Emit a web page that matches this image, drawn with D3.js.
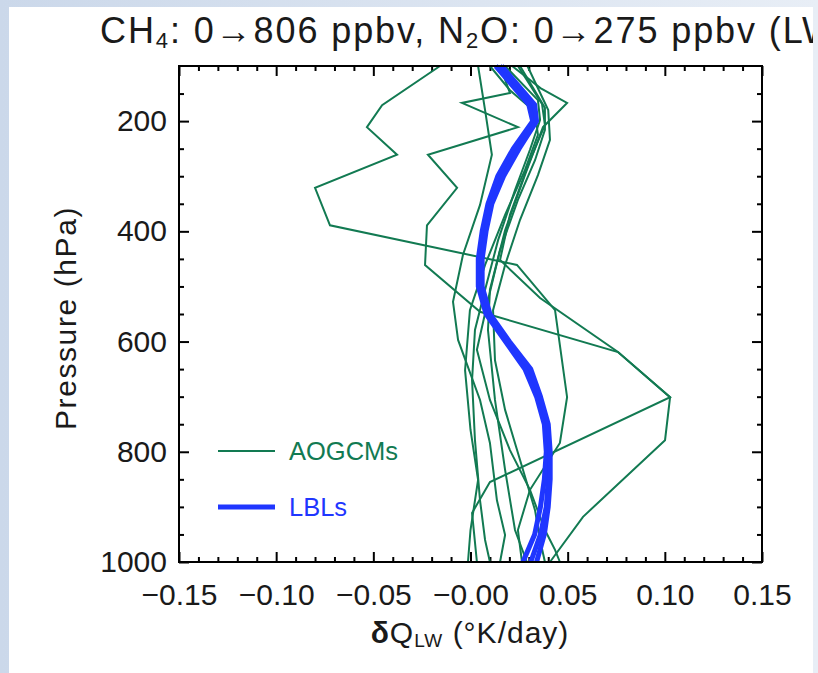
<!DOCTYPE html>
<html><head><meta charset="utf-8">
<script src="https://cdn.jsdelivr.net/npm/d3@7"></script>
<style>html,body{margin:0;padding:0;background:#fff}svg{display:block}</style>
</head><body>
<svg id="c" width="818" height="673"></svg>
<script>
// ---- data: [pressure hPa, dQ K/day] ----
const aogcm1 = [[100,-0.0157],[171,-0.0455],[211,-0.0533],[261,-0.0378],[321,-0.080],[389,-0.0723],[461,0.0239],[543,0.0435],[701,0.0497],[784,0.046],[869,0.0306],[942,0.0244],[1000,0.0265]];
const aogcm2 = [[100,0.0152],[149,0.0203],[167,-0.0044],[211,0.0244],[261,-0.0219],[321,-0.0069],[389,-0.0224],[461,-0.0234],[546,0.0049],[619,0.0759],[701,0.1027],[779,0.1001],[918,0.0579],[1000,0.0409]];
const aogcm3 = [[100,0.0244],[169,0.0368],[207,0.0383],[280,0.0296],[370,0.0203],[452,0.0152],[521,0.0358],[619,0.0759],[701,0.1027],[855,0.0100],[911,0.0008],[1000,0.0033]];
const aogcm4 = [[100,0.0214],[140,0.036],[167,0.0497],[211,0.0373],[298,0.028],[398,0.0178],[506,0.010],[579,0.009],[706,0.0126],[833,0.0178],[942,0.0229],[1000,0.029]];
const aogcm5 = [[100,0.0039],[180,0.0075],[261,0.011],[352,0.0049],[443,-0.0039],[528,-0.009],[597,-0.0064],[706,0.0049],[784,0.010],[888,0.0136],[951,0.0178],[1000,0.0152]];
const aogcm6 = [[100,0.0178],[162,0.0347],[198,0.0358],[252,0.0306],[325,0.0229],[416,0.0142],[506,0.0075],[579,0.0023],[670,0.0008],[779,0.0023],[888,0.0049],[960,0.0075],[1000,0.010]];
const aogcm7 = [[100,0.0255],[176,0.0383],[216,0.0383],[271,0.0332],[343,0.0244],[434,0.0152],[525,0.009],[615,0.0033],[706,0.010],[797,0.0203],[869,0.0306],[942,0.0383],[978,0.0435],[1000,0.046]];
const aogcm8 = [[100,0.010],[144,0.0203],[183,0.0332],[225,0.0347],[289,0.028],[370,0.0178],[461,0.0075],[543,-0.0003],[652,-0.0028],[760,0.0],[851,0.0039],[942,0.0],[1000,-0.0013]];
const aogcm9 = [[100,0.0293],[180,0.040],[234,0.0409],[298,0.0347],[379,0.0255],[461,0.0178],[543,0.0116],[634,0.0126],[724,0.0178],[815,0.0255],[906,0.0332],[960,0.0358],[1000,0.0383]];
const lbl1 = [[100,0.015],[170,0.032],[200,0.033],[250,0.023],[300,0.016],[350,0.010],[400,0.007],[450,0.005],[500,0.005],[550,0.009],[600,0.019],[650,0.030],[700,0.035],[750,0.039],[800,0.040],[850,0.040],[900,0.039],[950,0.036],[1000,0.031]];
const lbl2 = [[100,0.013],[170,0.030],[200,0.032],[250,0.022],[300,0.014],[350,0.009],[400,0.006],[450,0.004],[500,0.004],[550,0.008],[600,0.018],[650,0.028],[700,0.034],[750,0.038],[800,0.039],[850,0.038],[900,0.036],[950,0.033],[1000,0.027]];
const lbl3 = [[100,0.016],[170,0.033],[200,0.034],[250,0.025],[300,0.017],[350,0.011],[400,0.008],[450,0.006],[500,0.006],[550,0.010],[600,0.020],[650,0.031],[700,0.036],[750,0.040],[800,0.041],[850,0.041],[900,0.040],[950,0.038],[1000,0.034]];
const aogcmSeries = [aogcm1, aogcm2, aogcm3, aogcm4, aogcm5, aogcm6, aogcm7, aogcm8, aogcm9];
const lblSeries = [lbl1, lbl2, lbl3];
const xMajorTicks = [-0.15, -0.10, -0.05, 0, 0.05, 0.10, 0.15];
const xTickLabels = ["\u22120.15", "\u22120.10", "\u22120.05", "\u22120.00", "0.05", "0.10", "0.15"];
const yMajorTicks = [200, 400, 600, 800, 1000];
const yTickLabels = ["200", "400", "600", "800", "1000"];
const legendLabels = ["AOGCMs", "LBLs"];

// ---- layout ----
const svg = d3.select("#c");
const W = 818, H = 673;
const L = 179, R = 762, T = 66, B = 562;
const green = "#127a52", blue = "#1f36ff";
const FONT = "'Liberation Sans', Arial, Helvetica, sans-serif";
const INK = "#1a1a1a";

const defs = svg.append("defs");
const grad = defs.append("linearGradient").attr("id", "bg").attr("x1", 0).attr("y1", 0).attr("x2", 1).attr("y2", 0);
grad.append("stop").attr("offset", "0%").attr("stop-color", "#cbd8ea");
grad.append("stop").attr("offset", "100%").attr("stop-color", "#e8eef6");
defs.append("clipPath").attr("id", "panel").append("rect").attr("x", 9).attr("y", 7).attr("width", 804).attr("height", H - 7);
svg.append("rect").attr("width", W).attr("height", H).attr("fill", "url(#bg)");
svg.append("rect").attr("x", 9).attr("y", 7).attr("width", 804).attr("height", H - 7).attr("fill", "#fff");

const x = d3.scaleLinear().domain([-0.15, 0.15]).range([L, R]);
const y = d3.scaleLinear().domain([100, 1000]).range([T, B]);

// title (cut at the panel edge, as in the source image)
const title = svg.append("g").attr("clip-path", "url(#panel)").append("text")
  .attr("x", 100).attr("y", 43).attr("font-family", FONT).attr("font-size", 36)
  .attr("letter-spacing", 1.9).attr("fill", INK);
title.append("tspan").text("CH");
title.append("tspan").attr("font-size", 22).attr("dy", 5).text("4");
title.append("tspan").attr("dy", -5).text(": 0\u2192806 ppbv, N");
title.append("tspan").attr("font-size", 22).attr("dy", 5).text("2");
title.append("tspan").attr("dy", -5).text("O: 0\u2192275 ppbv (LW)");

// axes
const xMinor = d3.range(-15, 16).filter(i => i % 5 !== 0).map(i => i / 100);
const yMinor = d3.range(150, 1000, 50).filter(v => v % 200 !== 0);
function styleAxis(g) {
  g.select(".domain").remove();
  g.selectAll("line").attr("stroke", "#000").attr("stroke-width", 2);
  g.selectAll("text").attr("font-family", FONT).attr("font-size", 30).attr("fill", INK);
}
svg.append("g").attr("transform", `translate(0,${B})`)
  .call(d3.axisBottom(x).tickValues(xMajorTicks).tickSize(-10).tickPadding(22).tickFormat((d, i) => xTickLabels[i]))
  .call(styleAxis);
svg.append("g").attr("transform", `translate(0,${B})`)
  .call(d3.axisBottom(x).tickValues(xMinor).tickSize(-5).tickFormat("")).call(styleAxis);
svg.append("g").attr("transform", `translate(0,${T})`)
  .call(d3.axisTop(x).tickValues(xMajorTicks).tickSize(-10).tickFormat("")).call(styleAxis);
svg.append("g").attr("transform", `translate(0,${T})`)
  .call(d3.axisTop(x).tickValues(xMinor).tickSize(-5).tickFormat("")).call(styleAxis);
svg.append("g").attr("transform", `translate(${L},0)`)
  .call(d3.axisLeft(y).tickValues(yMajorTicks).tickSize(-10).tickPadding(12).tickFormat((d, i) => yTickLabels[i]))
  .call(styleAxis);
svg.append("g").attr("transform", `translate(${L},0)`)
  .call(d3.axisLeft(y).tickValues(yMinor).tickSize(-5).tickFormat("")).call(styleAxis);
svg.append("g").attr("transform", `translate(${R},0)`)
  .call(d3.axisRight(y).tickValues(yMajorTicks).tickSize(-10).tickFormat("")).call(styleAxis);
svg.append("g").attr("transform", `translate(${R},0)`)
  .call(d3.axisRight(y).tickValues(yMinor).tickSize(-5).tickFormat("")).call(styleAxis);

// axis titles
svg.append("text").attr("transform", `translate(76,318) rotate(-90)`).attr("text-anchor", "middle")
  .attr("font-family", FONT).attr("font-size", 30).attr("letter-spacing", 1.6).attr("fill", INK).text("Pressure (hPa)");
const xt = svg.append("text").attr("x", 470).attr("y", 643).attr("text-anchor", "middle")
  .attr("font-family", FONT).attr("font-size", 30).attr("letter-spacing", 1).attr("fill", INK);
xt.append("tspan").attr("font-weight", "bold").text("\u03b4");
xt.append("tspan").text("Q");
xt.append("tspan").attr("font-size", 19).attr("dy", 4).text("LW");
xt.append("tspan").attr("dy", -4).text(" (\u00b0K/day)");

// lines
const line = d3.line().x(d => x(d[1])).y(d => y(d[0]));
svg.append("g").selectAll("path").data(aogcmSeries).join("path")
  .attr("d", line).attr("fill", "none").attr("stroke", green).attr("stroke-width", 2);
svg.append("g").selectAll("path").data(lblSeries).join("path")
  .attr("d", line).attr("fill", "none").attr("stroke", blue).attr("stroke-width", 5).attr("stroke-linejoin", "round");

// frame
svg.append("rect").attr("x", L).attr("y", T).attr("width", R - L).attr("height", B - T)
  .attr("fill", "none").attr("stroke", "#000").attr("stroke-width", 2);

// legend
const leg = svg.append("g");
const legItems = [{label: legendLabels[0], color: green, w: 2, yy: 451}, {label: legendLabels[1], color: blue, w: 5, yy: 507}];
legItems.forEach(it => {
  leg.append("line").attr("x1", 218).attr("x2", 275).attr("y1", it.yy).attr("y2", it.yy)
    .attr("stroke", it.color).attr("stroke-width", it.w);
  leg.append("text").attr("x", 289).attr("y", it.yy + 9).attr("font-family", FONT).attr("font-size", 25.5)
    .attr("fill", it.color).text(it.label);
});
</script>
</body></html>
